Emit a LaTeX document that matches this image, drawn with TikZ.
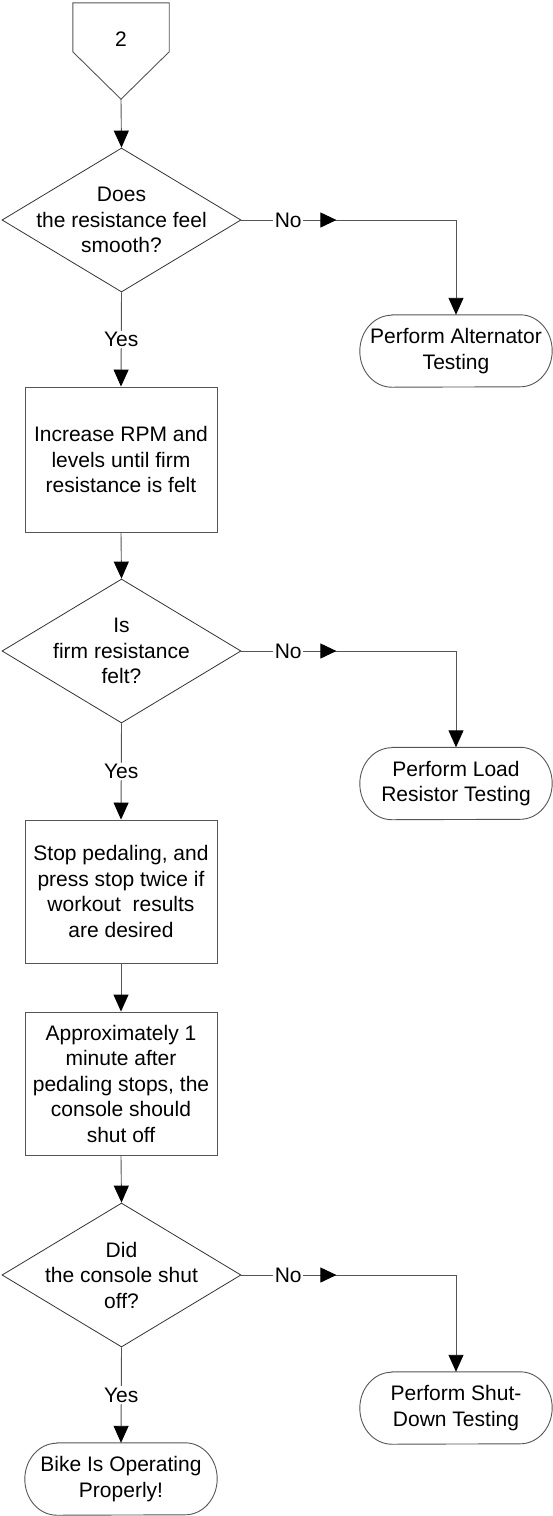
\documentclass[tikz,border=0pt]{standalone}
\usepackage{fontspec}
\setmainfont{Liberation Sans}
\usetikzlibrary{shapes.geometric,arrows.meta,calc,decorations.markings}
\definecolor{lin}{RGB}{85,85,85}
\begin{document}
\begin{tikzpicture}[x=1pt,y=-1pt,
  every node/.style={font=\fontsize{21}{25.5}\selectfont, text=black},
  lnk/.style={draw=lin, line width=0.9pt},
  arr/.style={lnk, -{Triangle[length=17pt,width=15pt,color=black,fill=black]}},
  dia/.style={diamond, draw=black!80, line width=0.8pt, minimum width=239pt, minimum height=144pt, inner sep=0pt},
  box/.style={rectangle, draw=lin, line width=0.9pt, minimum width=192pt, minimum height=145pt, align=center, inner sep=0pt},
  termbox/.style={rectangle, minimum width=192pt, minimum height=72pt, align=center, inner sep=0pt},
  txt/.style={align=center, inner sep=0pt},
  lbl/.style={fill=white, inner sep=1.5pt},
  midarrow/.style={postaction={decorate}, decoration={markings, mark=at position #1 with {\arrow{Triangle[length=16pt,width=15pt,color=black,fill=black]}}}}
]
\useasboundingbox (0,0) rectangle (552,1516);

% off-page connector
\node[rectangle, minimum width=96pt, minimum height=96pt, inner sep=0pt] (c) at (121,51) {};
\draw[lnk] (c.north west) -- (c.north east) -- ($(c.north east)+(0,49)$) -- (c.south) -- ($(c.north west)+(0,49)$) -- cycle;
\node[txt] (c2) at (121,39) {2};

% main column
\node[dia] (d1) at (121.5,220) {};
\node[txt] (d1t) at (d1) {Does\\the resistance feel\\smooth?};
\node[box] (b1) at (121,459.5) {Increase RPM and\\levels until firm\\resistance is felt};
\node[dia] (d2) at (121.5,651) {};
\node[txt] (d2t) at (d2) {Is\\firm resistance\\felt?};
\node[box, minimum height=143pt] (b2) at (121,891.5) {Stop pedaling, and\\press stop twice if\\workout\ \ results\\are desired};
\node[box, minimum height=143pt] (b3) at (121,1083.5) {Approximately 1\\minute after\\pedaling stops, the\\console should\\shut off};
\node[dia] (d3) at (121.5,1275) {};
\node[txt] (d3t) at (d3) {Did\\the console shut\\off?};

% terminators
\node[termbox] (t1) at (456,351) {Perform Alternator\\Testing};
\node[termbox] (t2) at (456,783.5) {Perform Load\\Resistor Testing};
\node[termbox] (t3) at (456,1408) {Perform Shut-\\Down Testing};
\node[termbox] (t4) at (121,1479) {Bike Is Operating\\Properly!};
\foreach \t in {t1,t2,t3,t4}
  \draw[lnk] ($(\t.north west)+(32,0)$) -- ($(\t.north east)+(-32,0)$)
    arc[start angle=90,end angle=-90,x radius=32pt,y radius=36pt]
    -- ($(\t.south west)+(32,0)$)
    arc[start angle=270,end angle=90,x radius=32pt,y radius=36pt] -- cycle;

% connectors
\draw[arr] (c.south) -- (d1.north);
\draw[arr] (d1.south) -- node[lbl]{Yes} (b1.north);
\draw[arr] (b1.south) -- (d2.north);
\draw[arr] (d2.south) -- node[lbl]{Yes} (b2.north);
\draw[arr] (b2.south) -- (b3.north);
\draw[arr] (b3.south) -- (d3.north);
\draw[arr] (d3.south) -- node[lbl]{Yes} (t4.north);
\draw[arr, midarrow=95pt] (d1.east) -| node[lbl, pos=0.109]{No} (t1.north);
\draw[arr, midarrow=95pt] (d2.east) -| node[lbl, pos=0.109]{No} (t2.north);
\draw[arr, midarrow=95pt] (d3.east) -| node[lbl, pos=0.109]{No} (t3.north);
\end{tikzpicture}
\end{document}
